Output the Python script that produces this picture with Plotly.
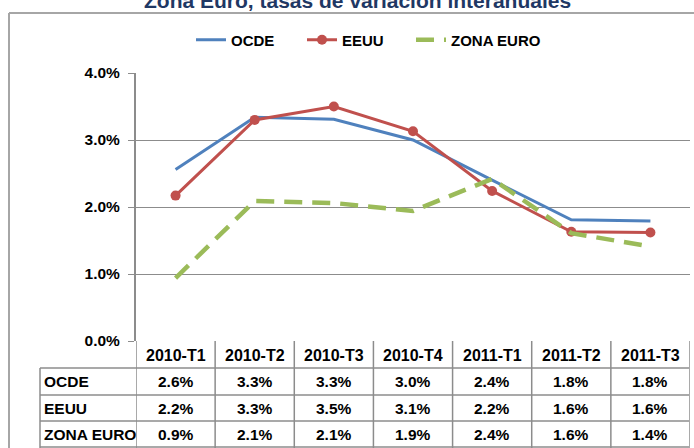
import plotly.graph_objects as go

categories = ["2010-T1", "2010-T2", "2010-T3", "2010-T4", "2011-T1", "2011-T2", "2011-T3"]
ocde = [2.56, 3.34, 3.31, 3.00, 2.40, 1.81, 1.79]
eeuu = [2.17, 3.30, 3.50, 3.13, 2.24, 1.63, 1.62]
zona_euro = [0.94, 2.09, 2.06, 1.94, 2.42, 1.61, 1.41]
series_names = ["OCDE", "EEUU", "ZONA EURO"]
y_ticks = [0, 1, 2, 3, 4]
title_text = "Zona Euro, tasas de variación interanuales"

FONT = "Liberation Sans, Arial, sans-serif"
GRID = "#8c8c8c"
W, H = 694, 448
L, R, T, B = 136, 4, 73, 107
PW, PH = W - L - R, H - T - B

def py(p):  # pixel y -> paper y
    return (H - B - p) / PH

def px(p):  # pixel x -> paper x
    return (p - L) / PW

fig = go.Figure()
fig.add_trace(go.Scatter(x=categories, y=ocde, name=series_names[0], mode="lines",
                         line=dict(color="#4F81BD", width=3), legend="legend"))
fig.add_trace(go.Scatter(x=categories, y=eeuu, name=series_names[1], mode="lines+markers",
                         line=dict(color="#C0504D", width=3),
                         marker=dict(size=10, color="#C0504D"), legend="legend2"))
fig.add_trace(go.Scatter(x=categories, y=zona_euro, name=series_names[2], mode="lines",
                         line=dict(color="#9BBB59", width=4.5, dash="18px,10px"), legend="legend3"))

shapes = []
# outer chart border (left and top)
shapes.append(dict(type="line", xref="paper", yref="paper", x0=px(9), x1=px(9), y0=py(13), y1=py(460),
                   line=dict(color="#a6a6a6", width=2)))
shapes.append(dict(type="line", xref="paper", yref="paper", x0=px(9), x1=px(700), y0=py(13), y1=py(13),
                   line=dict(color="#a6a6a6", width=2)))

# data table lines
row_lines = [368, 395, 421, 447]
for r in row_lines:
    shapes.append(dict(type="line", xref="paper", yref="paper", x0=px(40), x1=px(689), y0=py(r), y1=py(r),
                       line=dict(color=GRID, width=1.5)))
for i in range(len(categories) + 1):
    shapes.append(dict(type="line", xref="x", yref="paper", x0=i - 0.5, x1=i - 0.5, y0=0, y1=py(460),
                       line=dict(color=GRID, width=1.5)))
shapes.append(dict(type="line", xref="paper", yref="paper", x0=px(40), x1=px(40), y0=py(368), y1=py(460),
                   line=dict(color=GRID, width=1.5)))

annotations = []
annotations.append(dict(text="<b>" + title_text + "</b>", xref="paper", yref="paper", x=px(357), y=py(1),
                        showarrow=False, font=dict(family=FONT, size=21, color="#1F3864"),
                        xanchor="center", yanchor="middle"))
header_y = py(355)
for i, c in enumerate(categories):
    annotations.append(dict(text="<b>" + c + "</b>", xref="x", yref="paper", x=i, y=header_y,
                            showarrow=False, font=dict(family=FONT, size=16, color="black"),
                            xanchor="center", yanchor="middle"))
row_centers = [381.5, 408, 434.5]
for name, vals, rc in zip(series_names, [ocde, eeuu, zona_euro], row_centers):
    annotations.append(dict(text="<b>" + name + "</b>", xref="paper", yref="paper", x=px(42), y=py(rc),
                            showarrow=False, font=dict(family=FONT, size=15.5, color="black"),
                            xanchor="left", yanchor="middle"))
    for i, v in enumerate(vals):
        annotations.append(dict(text="<b>%.1f%%</b>" % v, xref="x", yref="paper", x=i, y=py(rc),
                                showarrow=False, font=dict(family=FONT, size=15.5, color="black"),
                                xanchor="center", yanchor="middle"))

def leg(x_px):
    return dict(orientation="h", x=px(x_px), y=py(40), xanchor="left", yanchor="middle",
                font=dict(family=FONT, size=15, color="black", weight="bold"),
                bgcolor="rgba(0,0,0,0)")

fig.update_layout(
    width=W, height=H,
    margin=dict(l=L, r=R, t=T, b=B, pad=0),
    paper_bgcolor="white", plot_bgcolor="white",
    font=dict(family=FONT, size=15.5, color="black"),
    showlegend=True,
    legend=leg(191), legend2=leg(302), legend3=leg(411),
    xaxis=dict(type="category", range=[-0.5, len(categories) - 0.5], showticklabels=False,
               showgrid=False, zeroline=False, showline=False, ticks=""),
    yaxis=dict(range=[0, 4], tickvals=y_ticks, ticktext=["<b>%.1f%%</b>" % v for v in y_ticks],
               showgrid=True, gridcolor=GRID, gridwidth=1, zeroline=False,
               showline=True, linecolor=GRID, linewidth=2, ticks="outside", ticklen=6,
               tickcolor=GRID, tickwidth=1, tickfont=dict(family=FONT, size=15.5, color="black"),
               ticklabelstandoff=5),
    shapes=shapes, annotations=annotations,
)
fig.update_traces(cliponaxis=False)

fig.write_html("out.html", config={"displayModeBar": False},
               post_script="document.body.style.margin='0';document.body.style.overflow='hidden';")
